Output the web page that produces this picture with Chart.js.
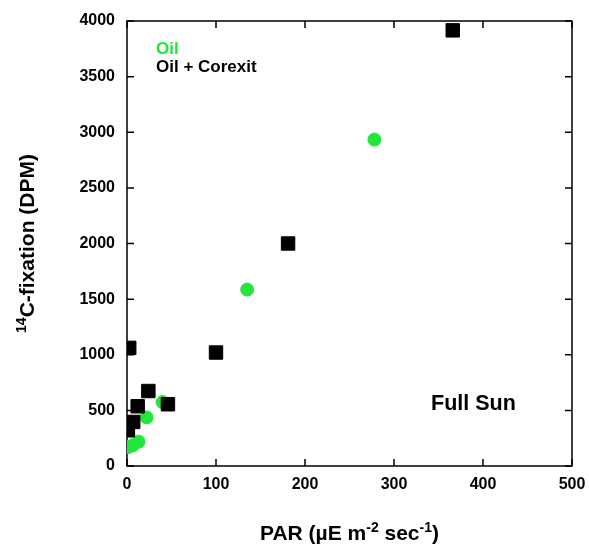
<!DOCTYPE html>
<html><head><meta charset="utf-8">
<script src="https://cdn.jsdelivr.net/npm/chart.js@4"></script>
<style>html,body{margin:0;padding:0;background:#fff}</style>
</head><body>
<canvas id="c" width="589" height="544"></canvas>
<script>
// ---- data ----
const oilX = [1.5, 6.5, 13, 22, 40, 135, 278];
const oilY = [170, 186, 218, 437, 575, 1586, 2934];
const coxX = [1, 7, 12, 24, 46, 2.5, 100, 181, 366];
const coxY = [321, 396, 537, 674, 555, 1062, 1020, 2000, 3916];
const xTicks = [0, 100, 200, 300, 400, 500];
const yTicks = [0, 500, 1000, 1500, 2000, 2500, 3000, 3500, 4000];
const seriesNames = ['Oil', 'Oil + Corexit'];
const panelLabel = 'Full Sun';

const FONT = '"Liberation Sans", Arial, Helvetica, sans-serif';
const GREEN = '#22e63c';

function toPts(xs, ys) { return xs.map((x, i) => ({x: x, y: ys[i]})); }

function richWidth(ctx, parts, size, supSize) {
  let w = 0;
  parts.forEach(p => { ctx.font = 'bold ' + (p.sup ? supSize : size) + 'px ' + FONT; w += ctx.measureText(p.t).width; });
  return w;
}
function drawRich(ctx, parts, cx, baseY, size, supSize, rise) {
  const w = richWidth(ctx, parts, size, supSize);
  let x = cx - w / 2;
  ctx.textAlign = 'left';
  ctx.textBaseline = 'alphabetic';
  parts.forEach(p => {
    ctx.font = 'bold ' + (p.sup ? supSize : size) + 'px ' + FONT;
    ctx.fillText(p.t, x, p.sup ? baseY - rise : baseY);
    x += ctx.measureText(p.t).width;
  });
}

const framePlugin = {
  id: 'frame',
  beforeDatasetsDraw(chart) {
    const {ctx, chartArea: a, scales} = chart;
    ctx.save();
    ctx.strokeStyle = '#000';
    ctx.lineWidth = 1.5;
    ctx.strokeRect(a.left, a.top, a.right - a.left, a.bottom - a.top);
    ctx.beginPath();
    const L = 7;
    xTicks.forEach(v => {
      const px = scales.x.getPixelForValue(v);
      ctx.moveTo(px, a.bottom); ctx.lineTo(px, a.bottom - L);
      ctx.moveTo(px, a.top); ctx.lineTo(px, a.top + L);
    });
    yTicks.forEach(v => {
      const py = scales.y.getPixelForValue(v);
      ctx.moveTo(a.left, py); ctx.lineTo(a.left + L, py);
      ctx.moveTo(a.right, py); ctx.lineTo(a.right - L, py);
    });
    ctx.stroke();
    ctx.restore();
  },
  afterDraw(chart) {
    const {ctx, chartArea: a, scales} = chart;
    ctx.save();
    ctx.fillStyle = '#000';
    // x title
    drawRich(ctx, [
      {t: 'PAR (µE m'}, {t: '-2', sup: true}, {t: ' sec'}, {t: '-1', sup: true}, {t: ')'}
    ], (a.left + a.right) / 2, a.bottom + 74, 21, 14, 8);
    // y title
    ctx.save();
    ctx.translate(34, (a.top + a.bottom) / 2);
    ctx.rotate(-Math.PI / 2);
    drawRich(ctx, [{t: '14', sup: true}, {t: 'C-fixation (DPM)'}], 0, 0, 21, 14, 8);
    ctx.restore();
    // legend text
    ctx.textAlign = 'left';
    ctx.textBaseline = 'middle';
    ctx.font = 'bold 17px ' + FONT;
    const lx = a.left + 29;
    ctx.fillStyle = GREEN;
    ctx.fillText(seriesNames[0], lx, a.top + 28);
    ctx.fillStyle = '#000';
    ctx.fillText(seriesNames[1], lx, a.top + 46);
    // panel label
    ctx.font = 'bold 21.5px ' + FONT;
    ctx.fillText(panelLabel, a.left + 304, a.bottom - 62);
    ctx.restore();
  }
};

new Chart(document.getElementById('c'), {
  type: 'scatter',
  data: {
    datasets: [
      {label: seriesNames[0], data: toPts(oilX, oilY), pointStyle: 'circle', pointRadius: 6.5,
       pointHoverRadius: 6.5, backgroundColor: GREEN, borderColor: GREEN, borderWidth: 1, order: 2},
      {label: seriesNames[1], data: toPts(coxX, coxY), pointStyle: 'rect', pointRadius: 9.5,
       pointHoverRadius: 9.5, backgroundColor: '#000', borderColor: '#000', borderWidth: 1, order: 1}
    ]
  },
  options: {
    responsive: false,
    animation: false,
    devicePixelRatio: 1,
    layout: {padding: {top: 21, right: 17, left: 0, bottom: 0}},
    plugins: {legend: {display: false}, tooltip: {enabled: false}, title: {display: false}},
    scales: {
      x: {
        type: 'linear', min: 0, max: 500,
        afterBuildTicks(s) { s.ticks = xTicks.map(v => ({value: v})); },
        afterFit(s) { s.height = 78; s.paddingRight = 0; s.paddingLeft = 0; },
        grid: {display: false, drawTicks: false},
        border: {display: false},
        ticks: {color: '#000', padding: 9, maxRotation: 0, callback: v => String(v),
                font: {family: FONT, size: 16, weight: 'bold'}}
      },
      y: {
        type: 'linear', min: 0, max: 4000,
        afterBuildTicks(s) { s.ticks = yTicks.map(v => ({value: v})); },
        afterFit(s) { s.width = 127; s.paddingTop = 0; s.paddingBottom = 0; },
        grid: {display: false, drawTicks: false},
        border: {display: false},
        ticks: {color: '#000', padding: 12, callback: v => String(v),
                font: {family: FONT, size: 16, weight: 'bold'}}
      }
    }
  },
  plugins: [framePlugin]
});
</script>
</body></html>
